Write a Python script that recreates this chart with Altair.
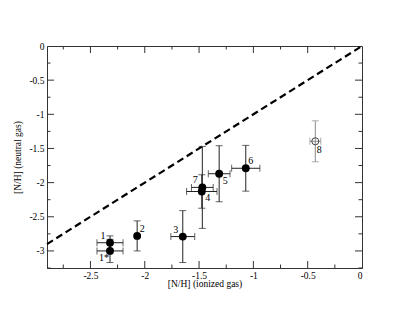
import altair as alt
import pandas as pd

labels = ["1", "1*", "2", "3", "4", "5", "6", "7", "8"]
x_ion = [-2.32, -2.32, -2.07, -1.65, -1.475, -1.315, -1.07, -1.47, -0.43]
x_err = [0.12, 0.12, 0.0, 0.11, 0.14, 0.10, 0.13, 0.10, 0.05]
y_neu = [-2.88, -3.0, -2.78, -2.79, -2.13, -1.87, -1.79, -2.07, -1.395]
y_err = [0.10, 0.17, 0.22, 0.38, 0.245, 0.41, 0.335, 0.60, 0.30]
kind = ["filled"] * 8 + ["open"]

line_x = [-2.9, 0.0]
line_y = [-2.9, 0.0]

x_major = [-2.5, -2.0, -1.5, -1.0, -0.5]
x_minor = [-2.75, -2.25, -1.75, -1.25, -0.75, -0.25]
y_major = [-3.0, -2.5, -2.0, -1.5, -1.0, -0.5]
y_minor = [-3.25, -2.75, -2.25, -1.75, -1.25, -0.75, -0.25]
x_labels = [-2.5, -2.0, -1.5, -1.0, -0.5, 0.0]
y_labels = [-3.0, -2.5, -2.0, -1.5, -1.0, -0.5, 0.0]

df = pd.DataFrame({"label": labels, "x": x_ion, "xe": x_err, "y": y_neu, "ye": y_err, "kind": kind})
df["xlo"] = df.x - df.xe
df["xhi"] = df.x + df.xe
df["ylo"] = df.y - df.ye
df["yhi"] = df.y + df.ye

W, H = 315, 222
FONT = "Liberation Serif"
xs = alt.Scale(domain=[-2.9, 0], nice=False, zero=False)
ys = alt.Scale(domain=[-3.25, 0], nice=False, zero=False)

lbl = "datum.value + ''"
xaxis = alt.Axis(values=x_labels, labelExpr=lbl, ticks=False, grid=False,
                 title="[N/H] (ionized gas)", labelPadding=2, titlePadding=-1)
yaxis = alt.Axis(values=y_labels, labelExpr=lbl, ticks=False, grid=False,
                 title="[N/H] (neutral gas)", labelPadding=3, titlePadding=6)
X = lambda f: alt.X(f, type="quantitative", scale=xs, axis=xaxis)
Y = lambda f: alt.Y(f, type="quantitative", scale=ys, axis=yaxis)

base = alt.Chart(df)
dark = "#222222"
grey = "#8a8a8a"
col = alt.condition(alt.datum.kind == "open", alt.value(grey), alt.value(dark))

diag = alt.Chart(pd.DataFrame({"x": line_x, "y": line_y})).mark_line(
    color="black", strokeDash=[7, 4], strokeWidth=2.2).encode(x=X("x"), y=Y("y"))

yrule = base.mark_rule(strokeWidth=1).encode(x=X("x"), y=Y("ylo"), y2="yhi", color=col)
xrule = base.mark_rule(strokeWidth=1).encode(y=Y("y"), x=X("xlo"), x2="xhi", color=col)
ycap_lo = base.mark_tick(orient="horizontal", size=7, thickness=1).encode(x=X("x"), y=Y("ylo"), color=col)
ycap_hi = base.mark_tick(orient="horizontal", size=7, thickness=1).encode(x=X("x"), y=Y("yhi"), color=col)
xcap_lo = base.transform_filter("datum.xe > 0").mark_tick(orient="vertical", size=7, thickness=1).encode(
    x=X("xlo"), y=Y("y"), color=col)
xcap_hi = base.transform_filter("datum.xe > 0").mark_tick(orient="vertical", size=7, thickness=1).encode(
    x=X("xhi"), y=Y("y"), color=col)

filled = base.transform_filter("datum.kind == 'filled'").mark_point(
    filled=True, shape="circle", size=62, color="black", opacity=1).encode(x=X("x"), y=Y("y"))
opened = base.transform_filter("datum.kind == 'open'").mark_point(
    filled=False, shape="circle", size=50, color="#444444", strokeWidth=1, opacity=1).encode(x=X("x"), y=Y("y"))

groups = {
    (-7, -7): ["1", "3", "7"],
    (-6, 7): ["1*"],
    (5, -7): ["2", "6"],
    (6, 7): ["4", "5"],
    (4, 9): ["8"],
}
texts = []
for (dx, dy), names in groups.items():
    texts.append(base.transform_filter(alt.FieldOneOfPredicate(field="label", oneOf=names)).mark_text(
        dx=dx, dy=dy, font=FONT, fontSize=10, color="black").encode(x=X("x"), y=Y("y"), text="label"))

def ticks_x(vals, length):
    d = alt.Chart(pd.DataFrame({"v": vals}))
    bot = d.mark_rule(color="#333333").encode(x=X("v"), y=alt.value(H), y2=alt.value(H - length))
    top = d.mark_rule(color="#333333").encode(x=X("v"), y=alt.value(0), y2=alt.value(length))
    return [bot, top]

def ticks_y(vals, length):
    d = alt.Chart(pd.DataFrame({"v": vals}))
    lft = d.mark_rule(color="#333333").encode(y=Y("v"), x=alt.value(0), x2=alt.value(length))
    rgt = d.mark_rule(color="#333333").encode(y=Y("v"), x=alt.value(W), x2=alt.value(W - length))
    return [lft, rgt]

tick_layers = ticks_x(x_major, 7) + ticks_x(x_minor, 3.5) + ticks_y(y_major, 7) + ticks_y(y_minor, 3.5)

chart = alt.layer(diag, *tick_layers, yrule, xrule, ycap_lo, ycap_hi, xcap_lo, xcap_hi,
                  filled, opened, *texts).properties(
    width=W, height=H,
    autosize=alt.AutoSizeParams(type="none"),
    padding={"left": 39, "top": 38, "right": 30, "bottom": 40},
).configure_view(stroke="#333333", strokeWidth=1).configure_axis(
    domainColor="#333333", labelFont=FONT, titleFont=FONT, labelFontSize=9.5, titleFontSize=9.5,
    titleFontWeight="normal", labelColor="black", titleColor="black"
)

chart.save("out.html", embed_options={"renderer": "svg", "actions": False})
